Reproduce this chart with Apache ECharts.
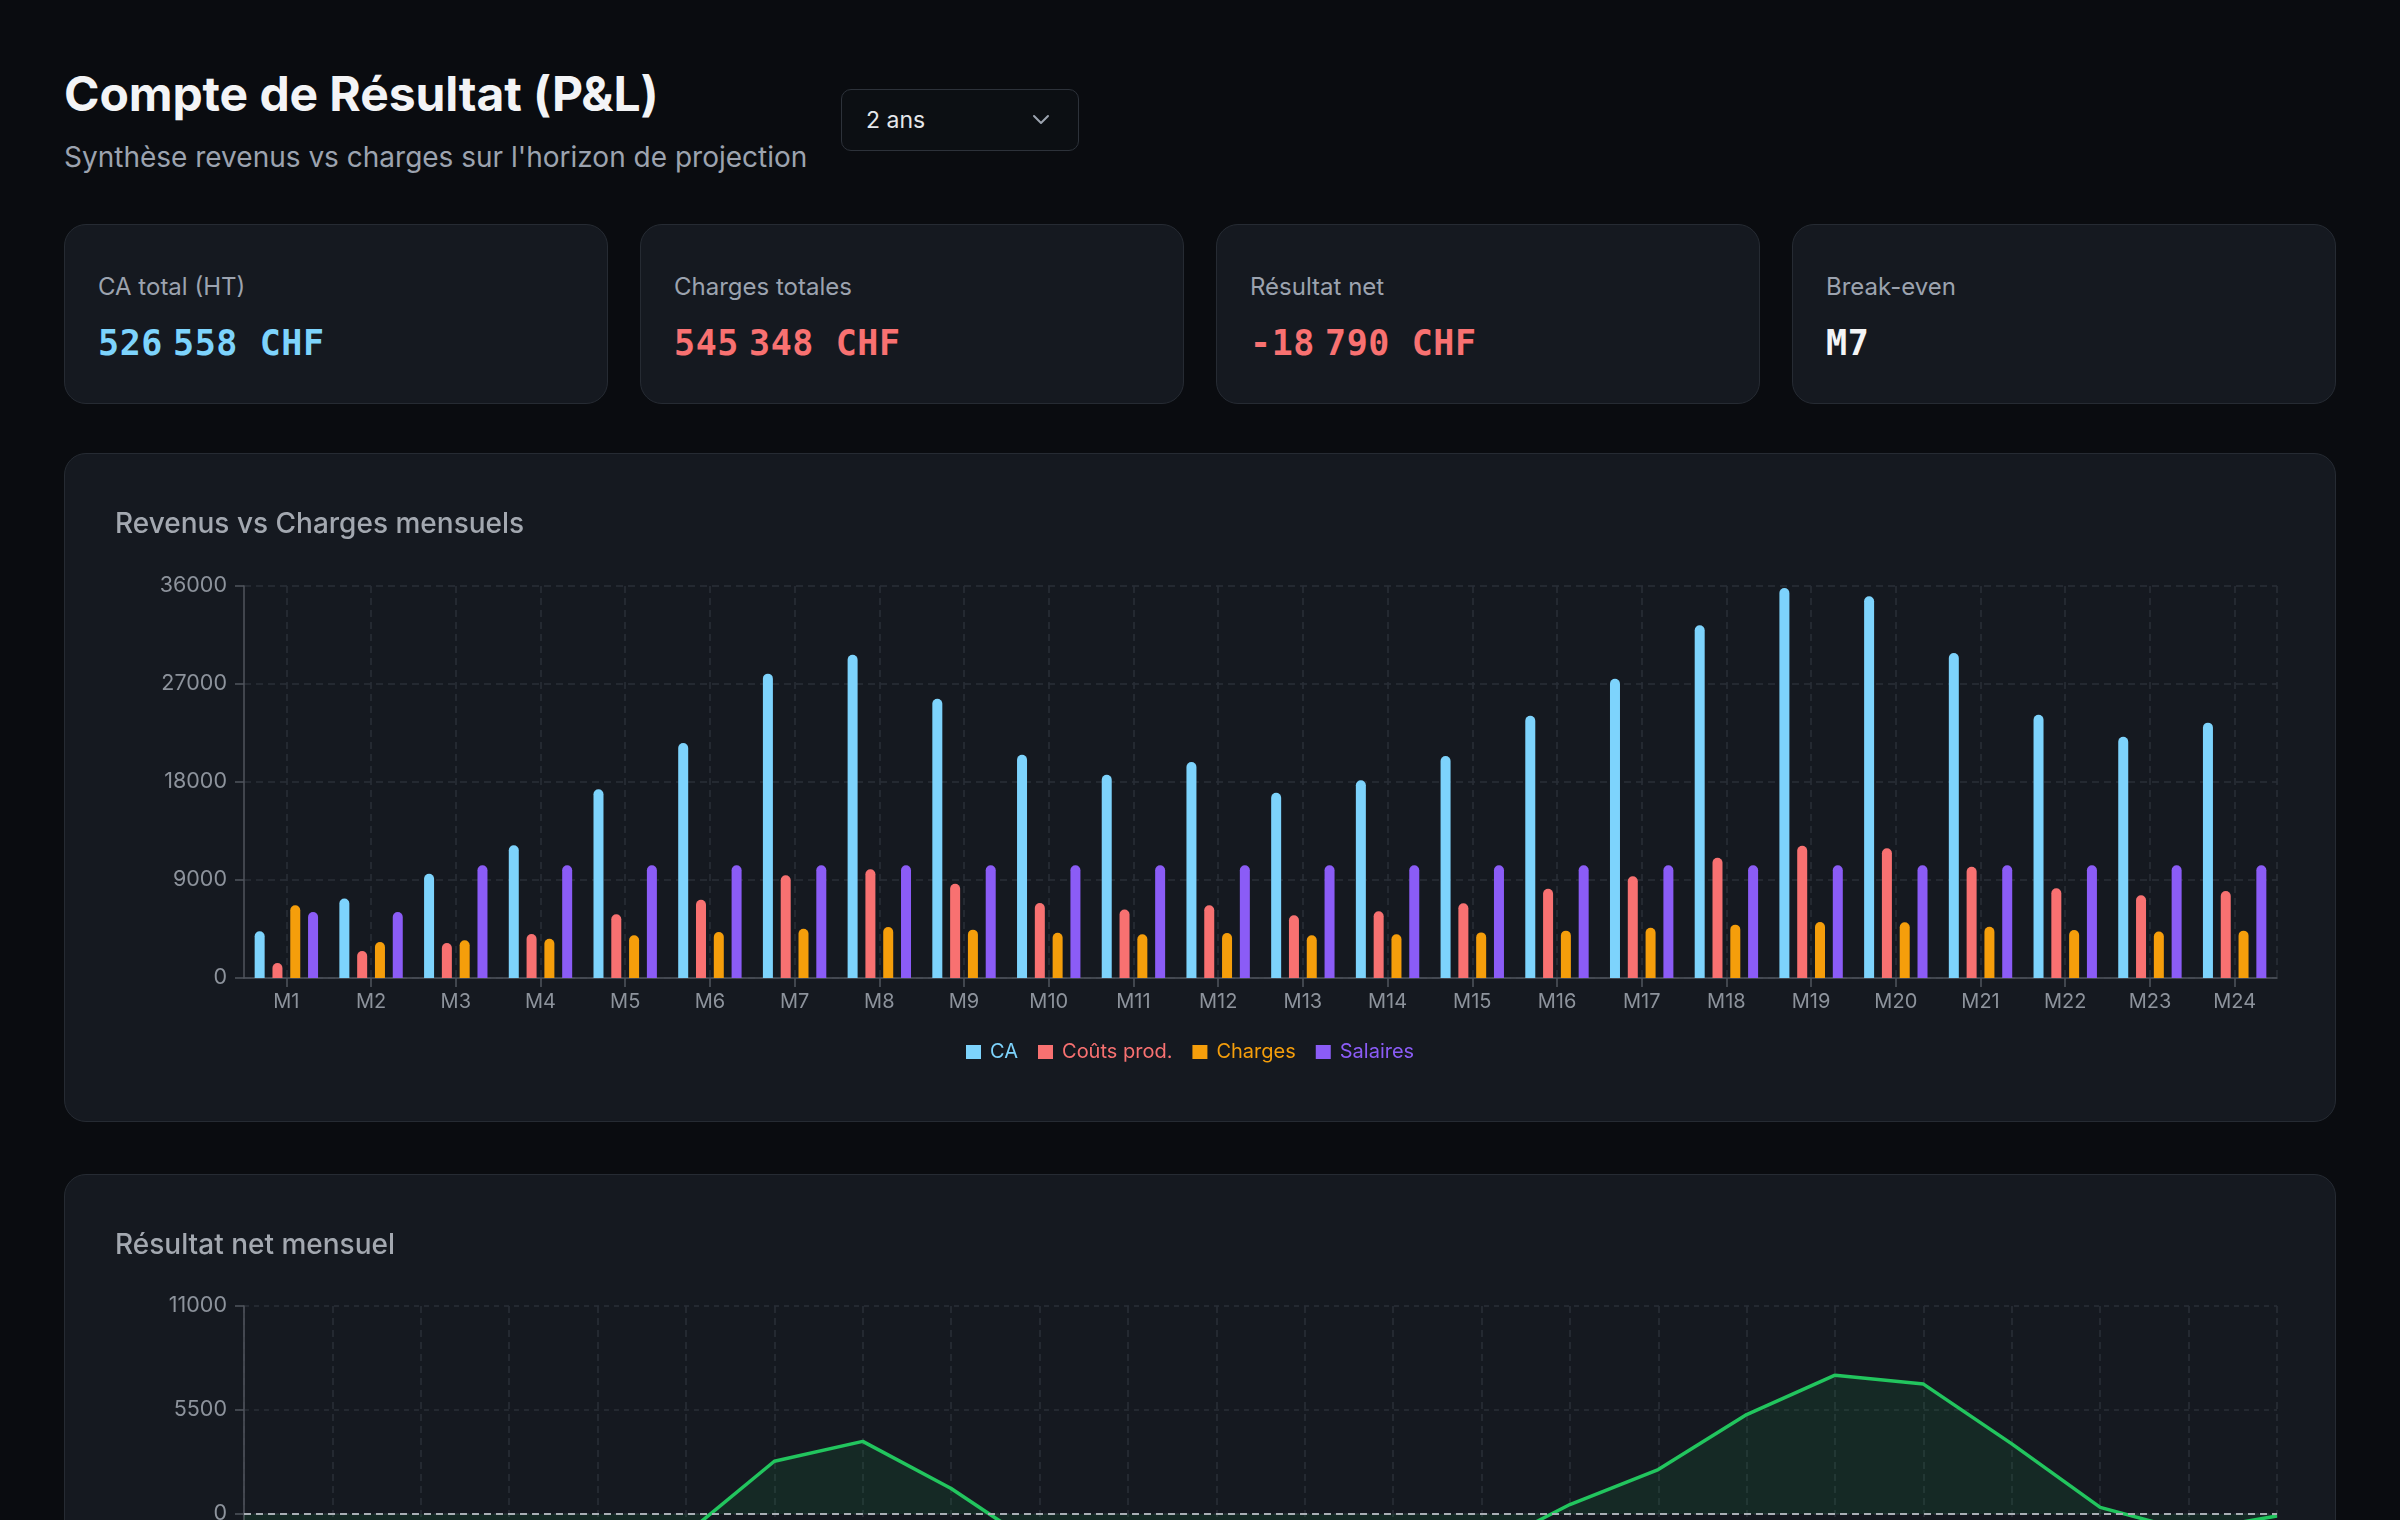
<!DOCTYPE html>
<html lang="fr">
<head>
<meta charset="utf-8">
<title>Compte de Résultat (P&L)</title>
<script src="https://cdn.jsdelivr.net/npm/echarts@6/dist/echarts.min.js"></script>
<style>
  html, body { margin:0; padding:0; width:2400px; height:1520px; overflow:hidden; background:#0a0c10; font-family:Inter, "Noto Sans", sans-serif; }
  .abs { position:absolute; }
  #title { left:64px; top:64px; font-size:48px; font-weight:700; color:#f3f4f6; line-height:60px; white-space:nowrap; letter-spacing:-0.1px; }
  #subtitle { left:64px; top:139px; font-size:28px; color:#9ca3af; line-height:36px; white-space:nowrap; }
  #select { left:841px; top:89px; width:238px; height:62px; border:1.5px solid #2d323a; border-radius:10px; box-sizing:border-box; background:#0c0f13; }
  #select span { position:absolute; left:24px; top:0; line-height:60px; font-size:23px; color:#e5e7eb; }
  #select svg { position:absolute; right:28px; top:23px; }
  .card { background:#151920; border:1.5px solid #262b33; border-radius:22px; box-sizing:border-box; }
  .kpi { top:224px; width:544px; height:180px; }
  .kpi .lab { position:absolute; left:33px; top:46px; font-size:24px; line-height:32px; color:#9ca3af; white-space:nowrap; }
  .kpi .val { position:absolute; left:33px; top:96px; font-family:"DejaVu Sans Mono", "Liberation Mono", monospace; font-weight:700; font-size:35px; line-height:44px; letter-spacing:0.6px; white-space:nowrap; }
  .kpi .val .nsp { display:inline-block; width:10px; }
  .chartcard { left:64px; width:2272px; height:669px; }
  .ctitle { position:absolute; left:50px; top:51px; font-size:28px; line-height:36px; color:#a3a8b0; font-weight:500; white-space:nowrap; z-index:2; }
  .chart { position:absolute; left:0; top:0; width:2272px; height:669px; }
</style>
</head>
<body>
<div id="title" class="abs">Compte de Résultat (P&amp;L)</div>
<div id="subtitle" class="abs">Synthèse revenus vs charges sur l'horizon de projection</div>
<div id="select" class="abs"><span>2 ans</span>
  <svg width="18" height="14" viewBox="0 0 18 14"><path d="M2 3 L9 10 L16 3" fill="none" stroke="#9ca3af" stroke-width="2" stroke-linecap="round" stroke-linejoin="round"/></svg>
</div>

<div class="abs card kpi" style="left:64px"><div class="lab">CA total (HT)</div><div class="val" style="color:#7dd3fc">526<span class="nsp"></span>558 CHF</div></div>
<div class="abs card kpi" style="left:640px"><div class="lab">Charges totales</div><div class="val" style="color:#f87171">545<span class="nsp"></span>348 CHF</div></div>
<div class="abs card kpi" style="left:1216px"><div class="lab">Résultat net</div><div class="val" style="color:#f87171">-18<span class="nsp"></span>790 CHF</div></div>
<div class="abs card kpi" style="left:1792px"><div class="lab">Break-even</div><div class="val" style="color:#f3f4f6">M7</div></div>

<div class="abs card chartcard" style="top:453px"><div class="ctitle">Revenus vs Charges mensuels</div><div id="c1" class="chart"></div></div>
<div class="abs card chartcard" style="top:1174px"><div class="ctitle">Résultat net mensuel</div><div id="c2" class="chart"></div></div>

<script>
const months = ['M1','M2','M3','M4','M5','M6','M7','M8','M9','M10','M11','M12','M13','M14','M15','M16','M17','M18','M19','M20','M21','M22','M23','M24'];
const ca = [4290, 7290, 9580, 12180, 17330, 21580, 27950, 29690, 25650, 20510, 18670, 19840, 17020, 18150, 20390, 24090, 27490, 32390, 35820, 35050, 29850, 24180, 22160, 23450];
const coutsProd = [1380, 2480, 3210, 4040, 5850, 7190, 9430, 9980, 8660, 6890, 6280, 6670, 5760, 6120, 6860, 8200, 9340, 11050, 12150, 11910, 10220, 8240, 7590, 7990];
const charges = [6670, 3310, 3460, 3610, 3920, 4220, 4530, 4680, 4440, 4160, 4010, 4130, 3920, 4010, 4190, 4350, 4620, 4900, 5140, 5110, 4710, 4410, 4260, 4350];
const salaires = [6060, 6060, 10350, 10350, 10350, 10350, 10350, 10350, 10350, 10350, 10350, 10350, 10350, 10350, 10350, 10350, 10350, 10350, 10350, 10350, 10350, 10350, 10350, 10350];
const resultatNet = [-10710, -5440, -8320, -6700, -3670, -1060, 2790, 3840, 1350, -1770, -2840, -2200, -3880, -3210, -1890, 500, 2350, 5260, 7340, 6870, 3710, 350, -910, -110];
const barTicks = { min: 0, max: 36000, interval: 9000 };
const netTicks = { min: -11000, max: 11000, interval: 5500 };

const COLORS = { ca:'#7dd3fc', couts:'#f87171', charges:'#f59e0b', sal:'#8b5cf6', net:'#22c55e' };
const GRID_LINE = '#2a2f37';
const AXIS_LINE = '#50555d';
const LABEL = '#8d939c';
const FONT = 'Inter';
const plain = v => String(v);

// split-line colours for the helper axis: visible at category centres (odd half-steps) and at the right edge
const centreLineColors = [];
for (let i = 0; i <= months.length * 2; i++) {
  centreLineColors.push((i % 2 === 1 || i === months.length * 2) ? GRID_LINE : 'rgba(0,0,0,0)');
}

const c1 = echarts.init(document.getElementById('c1'), null, { renderer: 'canvas' });
const barSeries = (name, data, color) => ({
  name, type: 'bar', data, xAxisIndex: 0, yAxisIndex: 0,
  barWidth: 10, barGap: '78%',
  itemStyle: { color, borderRadius: [5, 5, 0, 0] }
});
c1.setOption({
  backgroundColor: 'transparent',
  animation: false,
  textStyle: { fontFamily: FONT },
  grid: { left: 179, right: 60, top: 132, height: 392 },
  legend: {
    top: 583, left: 896, icon: 'rect', itemWidth: 15, itemHeight: 14, itemGap: 20,
    textStyle: { fontSize: 20, fontFamily: FONT, padding: [0, 0, 0, 4] },
    data: [
      { name: 'CA', textStyle: { color: COLORS.ca } },
      { name: 'Coûts prod.', textStyle: { color: COLORS.couts } },
      { name: 'Charges', textStyle: { color: COLORS.charges } },
      { name: 'Salaires', textStyle: { color: COLORS.sal } }
    ]
  },
  xAxis: [
    {
      type: 'category', data: months, boundaryGap: true,
      axisLine: { lineStyle: { color: AXIS_LINE, width: 1.5 } },
      axisTick: { show: true, alignWithLabel: true, length: 9, lineStyle: { color: AXIS_LINE, width: 1.5 } },
      axisLabel: { color: LABEL, fontSize: 20, margin: 14, fontFamily: FONT },
      splitLine: { show: false }
    },
    {
      type: 'value', min: 0, max: months.length * 2, interval: 1, position: 'top',
      axisLine: { show: false }, axisTick: { show: false }, axisLabel: { show: false },
      splitLine: { show: true, lineStyle: { color: centreLineColors, type: [7, 5], width: 1.5 } }
    }
  ],
  yAxis: [
    {
      type: 'value', min: barTicks.min, max: barTicks.max, interval: barTicks.interval,
      axisLine: { show: true, lineStyle: { color: AXIS_LINE, width: 1.5 } },
      axisTick: { show: true, length: 9, lineStyle: { color: AXIS_LINE, width: 1.5 } },
      axisLabel: { color: LABEL, fontSize: 21.5, margin: 17, fontFamily: FONT, formatter: plain },
      splitLine: { show: true, lineStyle: { color: GRID_LINE, type: [7, 5], width: 1.5 } }
    }
  ],
  series: [
    barSeries('CA', ca, COLORS.ca),
    barSeries('Coûts prod.', coutsProd, COLORS.couts),
    barSeries('Charges', charges, COLORS.charges),
    barSeries('Salaires', salaires, COLORS.sal)
  ]
});

const c2 = echarts.init(document.getElementById('c2'), null, { renderer: 'canvas' });
c2.setOption({
  backgroundColor: 'transparent',
  animation: false,
  textStyle: { fontFamily: FONT },
  grid: { left: 179, right: 60, top: 131, height: 416 },
  xAxis: {
    type: 'category', data: months, boundaryGap: false,
    axisLine: { onZero: false, lineStyle: { color: AXIS_LINE, width: 1.5 } },
    axisTick: { show: true, length: 9, lineStyle: { color: AXIS_LINE, width: 1.5 } },
    axisLabel: { color: LABEL, fontSize: 20, margin: 14, fontFamily: FONT },
    splitLine: { show: true, lineStyle: { color: GRID_LINE, type: [7, 5], width: 1.5 } }
  },
  yAxis: {
    type: 'value', min: netTicks.min, max: netTicks.max, interval: netTicks.interval,
    axisLine: { show: true, lineStyle: { color: AXIS_LINE, width: 1.5 } },
    axisTick: { show: true, length: 9, lineStyle: { color: AXIS_LINE, width: 1.5 } },
    axisLabel: { color: LABEL, fontSize: 21.5, margin: 17, fontFamily: FONT, formatter: plain },
    splitLine: { show: true, lineStyle: { color: GRID_LINE, type: [5, 5], width: 1.5 } }
  },
  series: [{
    name: 'Résultat net', type: 'line', data: resultatNet,
    showSymbol: false, symbol: 'none',
    lineStyle: { color: COLORS.net, width: 3.5 },
    itemStyle: { color: COLORS.net },
    areaStyle: { color: 'rgba(34,197,94,0.14)' },
    markLine: {
      silent: true, symbol: 'none', label: { show: false },
      lineStyle: { color: '#a9aeb5', type: [7, 5], width: 2 },
      data: [{ yAxis: 0 }]
    }
  }]
});
</script>
</body>
</html>
